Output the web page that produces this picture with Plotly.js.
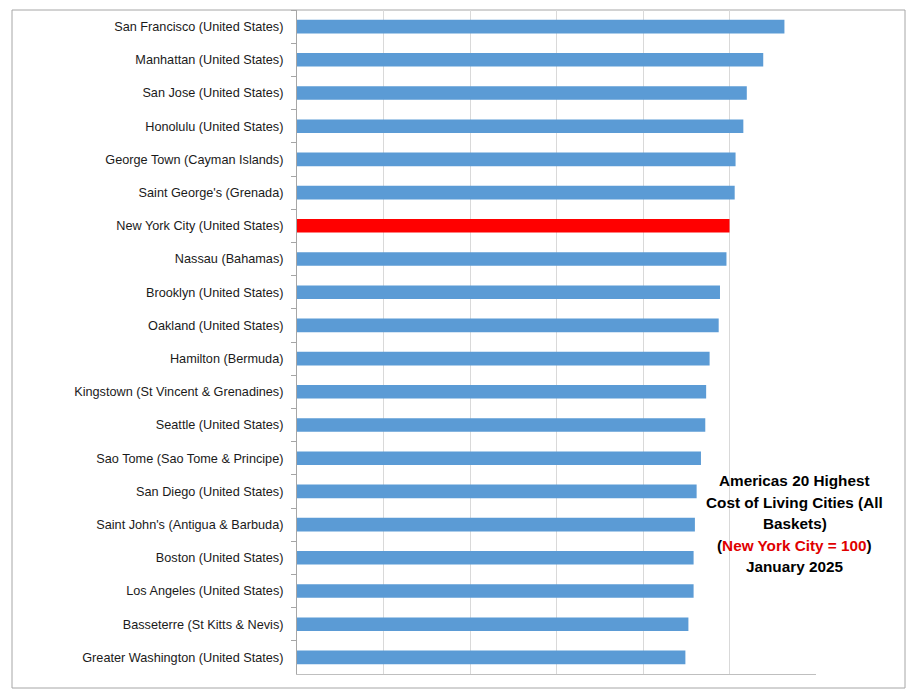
<!DOCTYPE html>
<html>
<head>
<meta charset="utf-8">
<script src="https://cdn.plot.ly/plotly-3.0.1.min.js"></script>
<style>html,body{margin:0;padding:0;background:#fff;}#chart{width:910px;height:699px;}</style>
</head>
<body>
<div id="chart"></div>
<script>
const cities = [
  "San Francisco (United States)",
  "Manhattan (United States)",
  "San Jose (United States)",
  "Honolulu (United States)",
  "George Town (Cayman Islands)",
  "Saint George's (Grenada)",
  "New York City (United States)",
  "Nassau (Bahamas)",
  "Brooklyn (United States)",
  "Oakland (United States)",
  "Hamilton (Bermuda)",
  "Kingstown (St Vincent & Grenadines)",
  "Seattle (United States)",
  "Sao Tome (Sao Tome & Principe)",
  "San Diego (United States)",
  "Saint John's (Antigua & Barbuda)",
  "Boston (United States)",
  "Los Angeles (United States)",
  "Basseterre (St Kitts & Nevis)",
  "Greater Washington (United States)"
];
const costIndex = [112.7, 107.8, 104.0, 103.2, 101.4, 101.2, 100.0, 99.3, 97.8, 97.5,
                   95.4, 94.6, 94.4, 93.4, 92.4, 92.0, 91.7, 91.7, 90.5, 89.8];
const highlightCity = "New York City (United States)";
const titleLines = [
  "Americas 20 Highest",
  "Cost of Living Cities (All",
  "Baskets)",
  "(<span style='color:#e00000'>New York City = 100</span>)",
  "January 2025"
];

const colors = cities.map(c => c === highlightCity ? "#ff0000" : "#5b9bd5");

const trace = {
  type: "bar",
  orientation: "h",
  x: costIndex,
  y: cities,
  marker: { color: colors, line: { width: 0 } },
  hoverinfo: "x+y"
};

const lineStep = 21.5 / 664;
const annotations = titleLines.map((t, i) => ({
  xref: "paper", yref: "paper",
  x: 0.959, y: 0.2260 - (i - 2) * lineStep,
  xanchor: "center", yanchor: "middle",
  text: "<b>" + t + "</b>",
  showarrow: false,
  font: { family: "Liberation Sans, Arial, sans-serif", size: 15.3, color: "#000" }
}));

const layout = {
  width: 910, height: 699,
  margin: { l: 297, r: 94, t: 10, b: 25 },
  paper_bgcolor: "#fff", plot_bgcolor: "#fff",
  showlegend: false,
  bargap: 0.59,
  font: { family: "Liberation Sans, Arial, sans-serif", color: "#1a1a1a" },
  xaxis: {
    range: [0, 120], dtick: 20, tick0: 0,
    showgrid: true, gridcolor: "#d9d9d9", gridwidth: 1,
    zeroline: false,
    showline: true, linecolor: "#bfbfbf", linewidth: 1,
    showticklabels: false, ticks: "", fixedrange: true
  },
  yaxis: {
    type: "category", autorange: "reversed",
    showline: true, linecolor: "#a6a6a6", linewidth: 1,
    ticks: "outside", tickson: "boundaries", ticklen: 5, tickcolor: "#a6a6a6",
    ticklabelstandoff: 10,
    tickfont: { size: 12.7, color: "#1a1a1a", family: "Liberation Sans, Arial, sans-serif" },
    showgrid: false, zeroline: false, fixedrange: true
  },
  shapes: [{
    type: "rect", xref: "paper", yref: "paper",
    x0: (12 - 297) / 519, x1: (905 - 297) / 519,
    y0: (674 - 688) / 664, y1: 1.0,
    line: { color: "#a6a6a6", width: 1 }, fillcolor: "rgba(0,0,0,0)", layer: "below"
  }],
  annotations: annotations
};

Plotly.newPlot("chart", [trace], layout, { displayModeBar: false, staticPlot: true });
</script>
</body>
</html>
